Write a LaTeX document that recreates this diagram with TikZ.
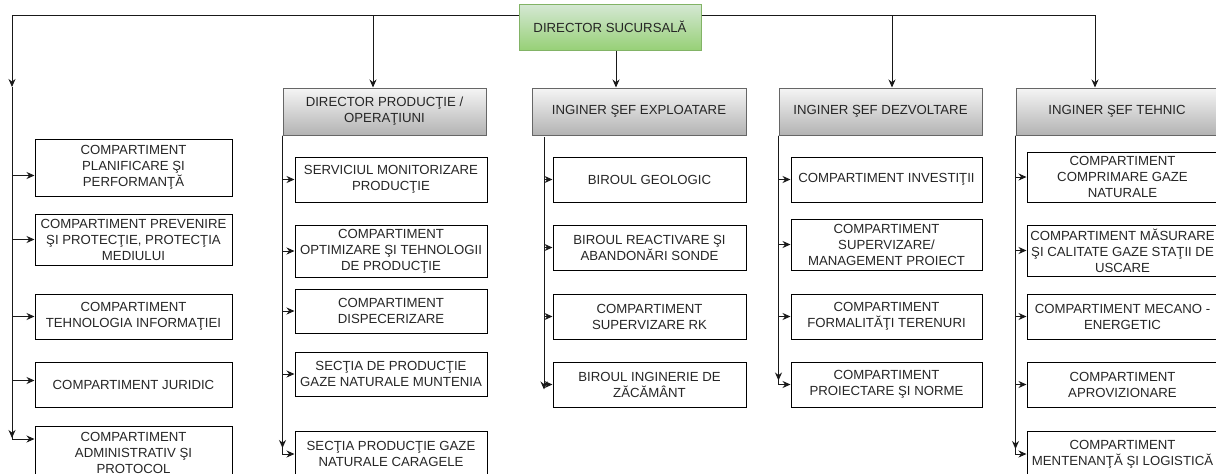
\documentclass[tikz,border=0pt]{standalone}
\usepackage{fontspec}
\setmainfont{Liberation Sans}
\usetikzlibrary{arrows.meta, positioning}
\definecolor{bossTop}{HTML}{D5E8D4}
\definecolor{bossBot}{HTML}{97D077}
\definecolor{bossLine}{HTML}{82B366}
\definecolor{headTop}{HTML}{F5F5F5}
\definecolor{headBot}{HTML}{B3B3B3}
\definecolor{headLine}{HTML}{666666}
\tikzset{
  unit box/.style={draw, line width=1pt, fill=white, align=center, inner sep=1pt,
    minimum width=192pt, minimum height=45pt, text=black!85,
    font=\fontsize{13.2}{16}\selectfont},
  head box/.style={unit box, draw=headLine, top color=headTop, bottom color=headBot,
    minimum width=203pt, minimum height=47pt},
  boss box/.style={unit box, draw=bossLine, top color=bossTop, bottom color=bossBot,
    minimum width=182pt, minimum height=46pt},
  link/.style={line width=1pt, black!90, -{Stealth[length=8pt, width=7pt]}},
  elbow/.style={to path={|- (\tikztotarget) \tikztonodes}},
}
\begin{document}
\begin{tikzpicture}[x=1pt, y=-1pt]
  \useasboundingbox (0,0) rectangle (1216,474);

  % conducere
  \node[boss box] (dir) at (610,27) {DIRECTOR SUCURSALĂ};
  \node[head box] (hprod) at (384.5,111.5) {DIRECTOR PRODUCŢIE /\\OPERAŢIUNI};
  \node[head box, minimum width=214pt] (hexpl) at (639,111.5) {INGINER ŞEF EXPLOATARE};
  \node[head box] (hdezv) at (880.5,111.5) {INGINER ŞEF DEZVOLTARE};
  \node[head box, minimum width=202pt] (htehn) at (1117,111.5) {INGINER ŞEF TEHNIC};

  % compartimente subordonate direct
  \node[unit box, minimum width=197pt, minimum height=57pt] (s1) at (133.5,167.5) {COMPARTIMENT\\PLANIFICARE ŞI\\PERFORMANŢĂ};
  \node[unit box, minimum width=197pt, minimum height=51pt] (s2) [below = 17pt of s1] {COMPARTIMENT PREVENIRE\\ŞI PROTECŢIE, PROTECŢIA\\MEDIULUI};
  \node[unit box, minimum width=197pt] (s3) [below = 28pt of s2] {COMPARTIMENT\\TEHNOLOGIA INFORMAŢIEI};
  \node[unit box, minimum width=197pt] (s4) [below = 22pt of s3] {COMPARTIMENT JURIDIC};
  \node[unit box, minimum width=197pt, minimum height=54pt] (s5) [below = 18pt of s4] {COMPARTIMENT\\ADMINISTRATIV ŞI\\PROTOCOL};

  % productie
  \node[unit box] (p1) at (391,179.5) {SERVICIUL MONITORIZARE\\PRODUCŢIE};
  \node[unit box, minimum height=52pt] (p2) [below = 22pt of p1] {COMPARTIMENT\\OPTIMIZARE ŞI TEHNOLOGII\\DE PRODUCŢIE};
  \node[unit box, minimum height=44pt] (p3) [below = 11pt of p2] {COMPARTIMENT\\DISPECERIZARE};
  \node[unit box, minimum height=44pt] (p4) [below = 18pt of p3] {SECŢIA DE PRODUCŢIE\\GAZE NATURALE MUNTENIA};
  \node[unit box, minimum height=46pt] (p5) [below = 34pt of p4] {SECŢIA PRODUCŢIE GAZE\\NATURALE CARAGELE};

  % exploatare
  \node[unit box, minimum width=193pt] (e1) at (649.5,179.5) {BIROUL GEOLOGIC};
  \node[unit box, minimum width=193pt] (e2) [below = 22pt of e1] {BIROUL REACTIVARE ŞI\\ABANDONĂRI SONDE};
  \node[unit box, minimum width=193pt] (e3) [below = 23pt of e2] {COMPARTIMENT\\SUPERVIZARE RK};
  \node[unit box, minimum width=193pt] (e4) [below = 22pt of e3] {BIROUL INGINERIE DE\\ZĂCĂMÂNT};

  % dezvoltare
  \node[unit box, minimum width=191pt] (d1) at (886.5,179.5) {COMPARTIMENT INVESTIŢII};
  \node[unit box, minimum width=191pt, minimum height=51pt] (d2) [below = 16pt of d1] {COMPARTIMENT\\SUPERVIZARE/\\MANAGEMENT PROIECT};
  \node[unit box, minimum width=191pt] (d3) [below = 23pt of d2] {COMPARTIMENT\\FORMALITĂŢI TERENURI};
  \node[unit box, minimum width=191pt] (d4) [below = 22pt of d3] {COMPARTIMENT\\PROIECTARE ŞI NORME};

  % tehnic
  \node[unit box, minimum width=191pt, minimum height=50pt] (t1) at (1122.5,177) {COMPARTIMENT\\COMPRIMARE GAZE\\NATURALE};
  \node[unit box, minimum width=191pt, minimum height=51pt] (t2) [below = 22pt of t1] {COMPARTIMENT MĂSURARE\\ŞI CALITATE GAZE STAŢII DE\\USCARE};
  \node[unit box, minimum width=191pt] (t3) [below = 17pt of t2] {COMPARTIMENT MECANO -\\ENERGETIC};
  \node[unit box, minimum width=191pt] (t4) [below = 22pt of t3] {COMPARTIMENT\\APROVIZIONARE};
  \node[unit box, minimum width=191pt, minimum height=46pt] (t5) [below = 23pt of t4] {COMPARTIMENT\\MENTENANŢĂ ŞI LOGISTICĂ};

  \coordinate (staff) at (12,87);
  \coordinate (staffend) at (12,438);
  \coordinate (expltop) at (544,137);

  % legaturi director
  \draw[link] ([yshift=12pt]dir.west) -| (staff);
  \draw[link] ([yshift=12pt]dir.west) -| ([xshift=-11.5pt]hprod.north);
  \draw[link] ([xshift=6pt]dir.south) -- ([xshift=6pt]dir.south |- hexpl.north);
  \draw[link] ([yshift=12pt]dir.east) -| ([xshift=11.5pt]hdezv.north);
  \draw[link] ([yshift=12pt]dir.east) -| ([xshift=-22pt]htehn.north);

  % legaturi compartimente
  \path[link]
    (staff) edge (staffend)
    (staff) edge[elbow] ([yshift=-8pt]s1.west)
    (staff) edge[elbow] (s2.west)
    (staff) edge[elbow] (s3.west)
    (staff) edge[elbow] ([yshift=4pt]s4.west)
    (staff) edge[elbow] ([yshift=14pt]s5.west);
  \path[link]
    (hprod.south west) edge ([yshift=6pt]hprod.south west |- p5.west)
    (hprod.south west) edge[elbow] (p1.west)
    (hprod.south west) edge[elbow] (p2.west)
    (hprod.south west) edge[elbow] (p3.west)
    (hprod.south west) edge[elbow] (p4.west)
    (hprod.south west) edge[elbow] (p5.west);
  \path[link]
    (expltop) edge ([yshift=-5pt]expltop |- e4.west)
    (expltop) edge[elbow] (e1.west)
    (expltop) edge[elbow] (e2.west)
    (expltop) edge[elbow] (e3.west)
    (expltop) edge[elbow] (e4.west);
  \path[link]
    (hdezv.south west) edge ([yshift=4pt]hdezv.south west |- d4.west)
    (hdezv.south west) edge[elbow] (d1.west)
    (hdezv.south west) edge[elbow] (d2.west)
    (hdezv.south west) edge[elbow] (d3.west)
    (hdezv.south west) edge[elbow] (d4.west);
  \path[link]
    (htehn.south west) edge ([yshift=5pt]htehn.south west |- t5.west)
    (htehn.south west) edge[elbow] (t1.west)
    (htehn.south west) edge[elbow] (t2.west)
    (htehn.south west) edge[elbow] (t3.west)
    (htehn.south west) edge[elbow] (t4.west)
    (htehn.south west) edge[elbow] (t5.west);
\end{tikzpicture}
\end{document}
